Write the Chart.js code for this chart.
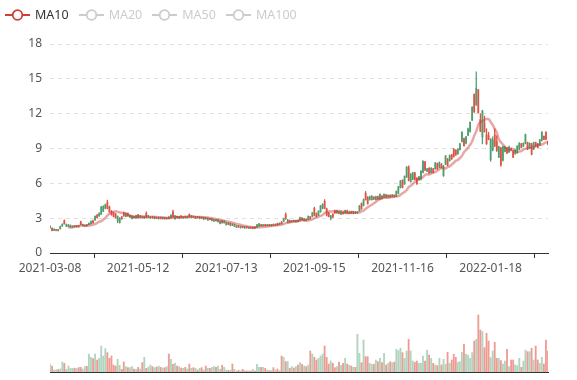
<!DOCTYPE html>
<html>
<head>
<meta charset="utf-8">
<script src="https://cdn.jsdelivr.net/npm/chart.js@4.4.1/dist/chart.umd.min.js"></script>
<style>
html,body{margin:0;padding:0;background:#fff;}
#wrap{position:relative;width:577px;height:380px;overflow:hidden;font-family:"Noto Sans",sans-serif;}
#box1{position:absolute;left:0;top:0;width:577px;height:290px;}
#box2{position:absolute;left:0;top:290px;width:577px;height:90px;}
#legend{position:absolute;left:5px;top:8px;height:14px;display:flex;align-items:center;font-size:12.5px;line-height:14px;z-index:2;}
#legend .item{display:flex;align-items:center;margin-right:10px;}
#legend .item span{margin-left:5px;}
#legend svg{display:block;}
</style>
</head>
<body>
<div id="wrap">
  <div id="legend"></div>
  <div id="box1"><canvas id="c1" width="577" height="290"></canvas></div>
  <div id="box2"><canvas id="c2" width="577" height="90"></canvas></div>
</div>
<script>
// ---------- DATA ----------
const tickLabels = ['2021-03-08','2021-05-12','2021-07-13','2021-09-15','2021-11-16','2022-01-18'];
const labelEvery = 43;
const barCount = 244;

const seriesNames = ['MA10','MA20','MA50','MA100'];
const activeSeries = ['MA10'];

const open = [
2.30,1.95,2.05,1.98,1.93,2.28,2.48,2.52,2.45,2.42,2.38,2.30,2.28,2.35,2.27,2.45,2.45,2.38,2.35,2.55,
2.70,2.60,3.15,3.05,3.40,3.95,4.00,4.15,3.85,3.55,3.30,3.15,3.05,3.15,3.00,2.95,3.20,3.40,3.20,3.25,
3.20,3.05,3.22,3.05,3.20,3.05,3.15,3.05,3.20,3.10,3.02,3.10,3.00,3.05,2.98,3.05,2.95,3.02,2.98,3.25,
3.10,3.20,3.05,3.15,3.05,3.12,3.05,3.15,3.10,3.20,3.10,3.12,3.05,3.10,3.00,3.05,2.95,3.00,2.88,2.95,
2.85,2.78,2.85,2.75,2.60,2.75,2.62,2.48,2.55,2.40,2.45,2.35,2.24,2.30,2.20,2.25,2.17,2.22,2.15,2.21,
2.14,2.42,2.52,2.34,2.42,2.35,2.42,2.35,2.43,2.37,2.46,2.40,2.56,2.52,2.95,2.95,2.85,2.65,2.78,2.72,
2.80,2.70,3.05,2.85,2.95,2.80,3.15,2.95,3.45,3.25,3.15,3.60,4.05,4.20,3.85,3.25,3.15,3.20,3.10,3.45,
3.65,3.40,3.55,3.38,3.65,3.45,3.55,3.42,3.55,3.42,3.52,4.05,3.80,4.60,4.60,4.25,4.85,4.90,4.65,4.85,
4.65,5.05,4.70,5.05,4.80,4.98,4.82,5.00,4.85,5.30,5.70,6.20,5.65,6.60,7.40,6.25,6.80,6.90,6.35,5.95,
6.55,7.05,7.90,7.15,7.25,6.90,7.30,6.95,7.75,7.25,7.80,7.35,7.50,8.35,7.55,8.40,8.10,8.30,8.45,8.95,
9.40,10.40,9.25,10.00,10.70,11.25,12.55,12.15,14.20,12.10,10.50,12.25,10.45,9.40,9.80,9.80,9.75,9.20,8.80,9.15,
7.60,9.15,9.15,8.60,9.15,8.85,8.25,8.85,9.20,9.45,9.10,9.45,10.20,8.95,9.45,8.50,9.50,9.20,9.10,9.75,
10.40,9.80,9.80,9.35
];
const close = [
2.18,2.12,1.95,1.94,1.98,2.10,2.32,2.78,2.30,2.28,2.25,2.25,2.33,2.26,2.30,2.68,2.35,2.32,2.42,2.45,
2.52,2.78,2.85,3.25,3.20,3.35,3.60,3.85,4.35,3.98,3.60,3.45,3.35,2.75,2.62,3.10,3.45,3.15,3.40,3.10,
2.98,3.15,3.02,3.28,3.05,3.12,3.00,3.40,3.08,3.02,3.10,2.98,3.05,2.95,3.05,2.95,3.02,2.96,3.10,3.05,
3.55,2.95,3.15,3.00,3.18,3.02,3.15,3.05,3.32,3.05,3.15,3.00,3.12,2.98,3.08,2.92,3.02,2.85,2.95,2.80,
2.75,2.85,2.70,2.55,2.78,2.60,2.45,2.58,2.38,2.48,2.30,2.22,2.32,2.18,2.27,2.15,2.23,2.13,2.21,2.12,
2.24,2.22,2.32,2.42,2.35,2.42,2.35,2.43,2.36,2.46,2.40,2.53,2.48,2.68,2.75,3.30,2.65,2.80,2.70,2.80,
2.68,2.82,2.80,3.00,2.78,2.90,2.90,3.10,3.15,3.85,3.40,3.25,3.55,3.85,4.45,3.80,3.45,2.98,3.35,3.65,
3.45,3.55,3.35,3.50,3.45,3.65,3.42,3.55,3.40,3.52,3.45,3.65,4.25,4.10,5.15,4.80,4.60,4.60,4.80,4.60,
4.85,4.65,4.90,4.80,5.00,4.82,4.98,4.85,4.98,4.90,5.15,5.65,6.25,5.95,6.55,7.40,6.15,6.35,6.90,6.45,
6.30,6.35,6.95,7.85,7.05,7.30,6.95,7.25,7.25,7.70,7.40,7.65,6.65,7.65,8.10,7.95,8.45,8.95,8.85,8.55,
8.90,9.60,9.85,9.45,10.15,10.45,11.45,13.65,12.75,14.05,11.50,10.00,11.20,10.20,10.10,8.05,8.85,10.20,9.60,8.25,
9.05,8.00,8.75,9.05,8.70,9.00,8.80,8.55,8.65,8.95,9.40,9.20,9.45,9.50,9.05,9.40,8.95,9.50,9.40,9.30,
9.70,10.05,10.40,9.60
];
const low = [
2.12,1.90,1.92,1.90,1.90,2.06,2.28,2.48,2.26,2.24,2.21,2.20,2.24,2.22,2.23,2.42,2.31,2.28,2.31,2.41,
2.48,2.56,2.80,3.00,3.14,3.30,3.55,3.80,3.80,3.50,3.25,3.10,3.00,2.60,2.56,2.90,3.15,3.10,3.15,3.05,
2.94,3.00,2.98,3.01,3.00,3.01,2.96,3.01,3.04,2.98,2.98,2.94,2.96,2.91,2.94,2.91,2.91,2.92,2.94,3.01,
3.06,2.90,3.01,2.96,3.01,2.98,3.01,3.01,3.06,3.01,3.06,2.96,3.01,2.94,2.96,2.88,2.91,2.81,2.84,2.76,
2.71,2.74,2.66,2.51,2.56,2.56,2.40,2.44,2.34,2.36,2.26,2.18,2.20,2.14,2.16,2.11,2.13,2.09,2.11,2.08,
2.10,2.18,2.28,2.30,2.31,2.31,2.31,2.31,2.32,2.33,2.36,2.36,2.44,2.48,2.70,2.90,2.60,2.61,2.66,2.68,
2.64,2.66,2.75,2.81,2.74,2.76,2.85,2.91,3.10,3.20,3.10,3.20,3.50,3.80,3.80,3.20,3.10,2.85,3.05,3.40,
3.40,3.36,3.31,3.34,3.41,3.41,3.38,3.38,3.36,3.38,3.41,3.60,3.75,4.05,4.55,4.20,4.55,4.55,4.60,4.55,
4.60,4.60,4.65,4.75,4.75,4.78,4.78,4.80,4.80,4.85,5.10,5.60,5.60,5.90,6.50,6.20,6.10,6.30,6.30,5.90,
6.25,6.30,6.90,7.10,7.00,6.85,6.90,6.90,7.20,7.20,7.35,7.30,6.60,7.60,7.50,7.90,8.05,8.25,8.40,8.50,
8.85,9.55,9.20,9.40,10.10,10.40,11.40,12.10,12.70,12.05,10.45,9.40,10.40,9.35,9.75,7.90,8.80,9.15,8.75,8.20,
7.45,7.90,8.70,8.55,8.65,8.80,8.20,8.50,8.60,8.90,9.05,9.15,9.40,8.90,9.00,8.45,8.90,9.15,9.05,9.25,
9.65,9.75,9.75,9.30
];
const high = [
2.36,2.16,2.08,2.02,2.02,2.32,2.52,2.86,2.50,2.46,2.42,2.34,2.37,2.39,2.35,2.74,2.50,2.42,2.46,2.60,
2.76,2.84,3.20,3.32,3.48,4.02,4.08,4.22,4.55,4.05,3.66,3.52,3.42,3.20,3.05,3.16,3.52,3.45,3.46,3.30,
3.25,3.20,3.26,3.34,3.24,3.16,3.19,3.55,3.24,3.14,3.14,3.14,3.09,3.09,3.09,3.09,3.06,3.06,3.14,3.30,
3.70,3.25,3.19,3.19,3.22,3.16,3.19,3.19,3.38,3.24,3.19,3.16,3.16,3.14,3.12,3.09,3.06,3.04,2.99,2.99,
2.89,2.89,2.89,2.79,2.82,2.79,2.66,2.62,2.59,2.52,2.49,2.39,2.36,2.34,2.31,2.29,2.27,2.26,2.25,2.25,
2.28,2.46,2.56,2.46,2.46,2.46,2.46,2.47,2.47,2.50,2.50,2.57,2.60,2.72,3.00,3.45,2.90,2.84,2.82,2.84,
2.84,2.86,3.10,3.05,2.99,2.94,3.20,3.15,3.50,3.95,3.46,3.65,4.10,4.25,4.60,3.86,3.50,3.25,3.40,3.70,
3.70,3.60,3.60,3.54,3.70,3.70,3.60,3.60,3.60,3.56,3.56,4.10,4.32,4.66,5.30,4.86,4.90,4.95,4.85,4.90,
4.90,5.10,4.95,5.10,5.05,5.02,5.02,5.05,5.02,5.35,5.75,6.25,6.32,6.65,7.45,7.50,6.85,6.95,6.95,6.50,
6.60,7.10,7.95,7.90,7.30,7.35,7.35,7.30,7.80,7.75,7.85,7.70,7.55,8.40,8.15,8.45,8.50,9.00,8.90,9.00,
9.45,10.45,9.90,10.05,10.75,11.30,12.60,13.70,15.60,14.10,12.00,12.30,11.80,10.70,10.40,9.85,10.00,10.70,10.10,9.20,
9.10,9.20,9.20,9.10,9.20,9.05,8.85,8.90,9.25,9.50,9.45,9.50,10.25,9.55,9.50,9.45,9.55,9.55,9.45,9.80,
10.45,10.10,10.45,9.65
];
const volume = [
83,63,23,25,28,33,103,90,30,63,40,40,42,38,48,50,33,58,60,183,
150,137,183,123,140,263,163,237,197,140,163,73,63,130,70,30,103,57,47,47,
57,33,30,50,33,97,150,40,53,73,57,47,53,63,50,43,47,57,183,130,
80,90,63,57,43,40,50,33,83,40,47,40,23,40,47,23,63,40,40,50,
57,50,63,30,70,50,23,20,20,83,30,13,20,13,30,17,13,15,13,30,
13,80,50,50,50,40,23,17,17,47,23,33,17,163,150,107,107,40,57,43,
57,73,97,80,63,57,73,213,183,150,123,140,163,183,263,150,83,113,90,47,
57,103,70,90,140,83,70,63,50,50,380,190,97,323,157,157,90,80,80,123,
107,140,97,190,73,90,107,97,103,230,217,240,197,140,213,330,213,113,100,113,
90,90,163,113,223,173,140,90,73,67,140,73,130,80,200,90,123,180,150,100,
107,200,280,183,173,140,197,313,330,573,423,407,247,390,313,147,213,300,140,140,
117,83,113,230,57,123,123,73,67,140,50,113,223,207,207,240,123,263,123,90,
150,83,323,213
];

// ---------- DERIVED ----------
function buildDates(ticks, every, total) {
  const out = [];
  ticks.forEach((t, k) => {
    const d = new Date(t + 'T00:00:00Z');
    const n = Math.min(every, total - k * every);
    let c = 0;
    while (c < n) {
      const wd = d.getUTCDay();
      if (wd !== 0 && wd !== 6) { out.push(d.toISOString().slice(0, 10)); c++; }
      d.setUTCDate(d.getUTCDate() + 1);
    }
  });
  return out;
}
const dates = buildDates(tickLabels, labelEvery, barCount);

function movingAverage(values, n) {
  return values.map((v, i) => {
    if (i < n - 1) return null;
    let s = 0;
    for (let j = i - n + 1; j <= i; j++) s += values[j];
    return +(s / n).toFixed(3);
  });
}
const ma10 = movingAverage(close, 10);

const UP = '#de5345', DOWN = '#4e9f70';
const UP_V = 'rgba(226,90,75,0.6)', DOWN_V = 'rgba(80,160,110,0.45)';
const isUp = i => close[i] >= open[i];

// ---------- LEGEND ----------
const legendColors = { MA10: '#cf3f3a' };
const legendEl = document.getElementById('legend');
seriesNames.forEach(name => {
  const active = activeSeries.includes(name);
  const col = active ? legendColors[name] : '#ccc';
  const item = document.createElement('div');
  item.className = 'item';
  item.innerHTML =
    '<svg width="25" height="14"><line x1="0" y1="7" x2="25" y2="7" stroke="' + col + '" stroke-width="2"/>' +
    '<circle cx="12.5" cy="7" r="4.8" fill="#fff" stroke="' + col + '" stroke-width="1.8"/></svg>' +
    '<span style="color:' + (active ? '#333' : '#ccc') + '">' + name + '</span>';
  legendEl.appendChild(item);
});

// ---------- CHARTS ----------
Chart.defaults.font.family = '"Noto Sans", sans-serif';
Chart.defaults.font.size = 12;
Chart.defaults.animation = false;

new Chart(document.getElementById('c1'), {
  type: 'bar',
  data: {
    labels: dates,
    datasets: [
      {
        type: 'line', label: 'MA10', data: ma10,
        borderColor: 'rgba(205,60,55,0.45)', borderWidth: 2.5,
        pointRadius: 0, tension: 0.4, fill: false, order: 0
      },
      {
        label: 'body', data: dates.map((d, i) => [open[i], close[i]]),
        backgroundColor: ctx => isUp(ctx.dataIndex) ? UP : DOWN,
        barThickness: 1.1, minBarLength: 1, grouped: false, order: 1
      },
      {
        label: 'wick', data: dates.map((d, i) => [low[i], high[i]]),
        backgroundColor: ctx => isUp(ctx.dataIndex) ? UP : DOWN,
        barThickness: 0.6, grouped: false, order: 2
      }
    ]
  },
  options: {
    responsive: false,
    devicePixelRatio: 1,
    layout: { padding: { top: 44, right: 29, bottom: 0, left: 0 } },
    plugins: { legend: { display: false }, tooltip: { enabled: false } },
    scales: {
      x: {
        type: 'category',
        offset: false,
        afterBuildTicks: axis => { axis.ticks = axis.ticks.filter(t => t.value % labelEvery === 0); },
        afterFit: axis => { axis.height = 37; },
        ticks: { autoSkip: false, maxRotation: 0, color: '#555', padding: 3 },
        grid: { drawOnChartArea: false, drawTicks: true, tickLength: 5, color: '#333' },
        border: { display: true, color: '#333', width: 1 }
      },
      y: {
        min: 0, max: 18,
        afterFit: axis => { axis.width = 50; },
        ticks: { stepSize: 3, color: '#555', padding: 8 },
        grid: { drawTicks: false, color: ctx => (ctx.tick && ctx.tick.value === 0) ? 'rgba(0,0,0,0)' : '#e0e0e0' },
        border: { display: false, dash: [4, 4] }
      }
    }
  }
});

const volMax = 720;
new Chart(document.getElementById('c2'), {
  type: 'bar',
  data: {
    labels: dates,
    datasets: [{
      label: 'Volume', data: volume,
      backgroundColor: ctx => isUp(ctx.dataIndex) ? UP_V : DOWN_V,
      barPercentage: 1, categoryPercentage: 0.9
    }]
  },
  options: {
    responsive: false,
    devicePixelRatio: 1,
    layout: { padding: { top: 10, right: 29, bottom: 0, left: 50 } },
    plugins: { legend: { display: false }, tooltip: { enabled: false } },
    scales: {
      x: {
        type: 'category', offset: false,
        afterFit: axis => { axis.height = 8; },
        ticks: { display: false },
        grid: { display: false, drawTicks: false },
        border: { display: true, color: '#333', width: 1 }
      },
      y: { display: false, min: 0, max: volMax }
    }
  }
});
</script>
</body>
</html>
